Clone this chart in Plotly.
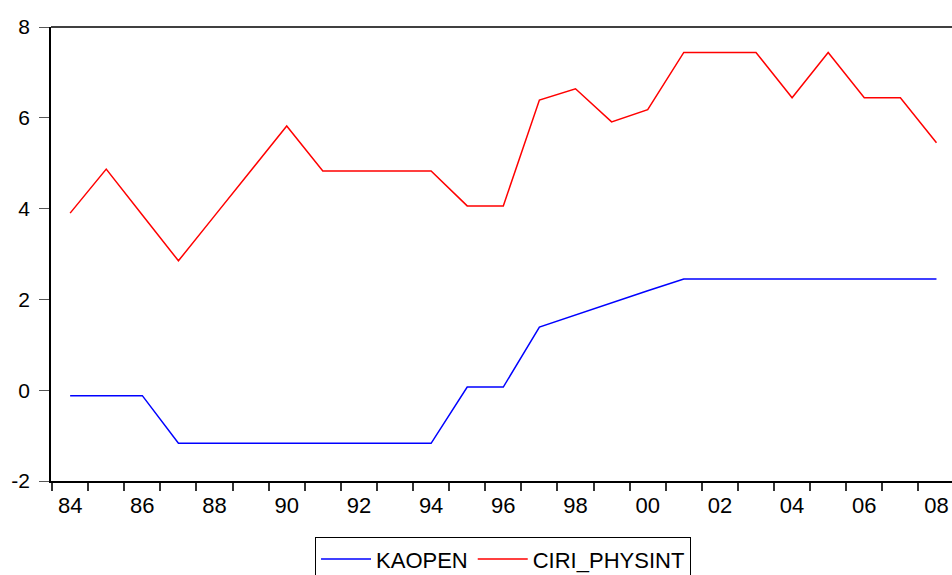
import plotly.graph_objects as go

years = list(range(1984, 2009))
kaopen = [-0.12, -0.12, -0.12, -1.17, -1.17, -1.17, -1.17, -1.17, -1.17, -1.17, -1.17,
          0.07, 0.07, 1.39, 1.66, 1.92, 2.19, 2.45, 2.45, 2.45, 2.45, 2.45, 2.45, 2.45, 2.45]
ciri_physint = [3.90, 4.87, 3.86, 2.85, 3.84, 4.83, 5.82, 4.83, 4.83, 4.83, 4.83,
                4.06, 4.06, 6.39, 6.64, 5.91, 6.18, 7.44, 7.44, 7.44, 6.44, 7.44, 6.44, 6.44, 5.45]
x_tick_vals = list(range(1984, 2009, 2))
x_tick_text = ["84", "86", "88", "90", "92", "94", "96", "98", "00", "02", "04", "06", "08"]
y_tick_vals = [-2, 0, 2, 4, 6, 8]
y_tick_text = ["-2", "0", "2", "4", "6", "8"]

FONT = "Liberation Sans, Arial, sans-serif"

fig = go.Figure()
fig.add_trace(go.Scatter(x=years, y=kaopen, mode="lines", name="KAOPEN",
                         line=dict(color="#0000FF", width=1.5)))
fig.add_trace(go.Scatter(x=years, y=ciri_physint, mode="lines", name="CIRI_PHYSINT",
                         line=dict(color="#FF0000", width=1.5)))

fig.update_layout(
    width=952, height=575,
    margin=dict(l=51, r=0, t=27, b=94, autoexpand=False),
    paper_bgcolor="white", plot_bgcolor="white",
    font=dict(family=FONT, color="black", size=20),
    showlegend=True,
    legend=dict(orientation="h", x=0.5017, xanchor="center", y=-0.124, yanchor="top",
                bordercolor="black", borderwidth=1, bgcolor="white",
                font=dict(family=FONT, size=22, color="black"),
                itemwidth=50, tracegroupgap=0),
    xaxis=dict(range=[1983.47, 2008.43], tickmode="array", tickvals=x_tick_vals,
               ticktext=x_tick_text, ticks="", showgrid=False, zeroline=False,
               showline=True, linecolor="black", linewidth=1.5, mirror=False,
               ticklabelstandoff=4, tickfont=dict(size=22),
               minor=dict(ticks="outside", tick0=1983.5, dtick=1, ticklen=8,
                          tickcolor="#333", tickwidth=1.5, showgrid=False)),
    yaxis=dict(range=[-2, 8], tickmode="array", tickvals=y_tick_vals, ticktext=y_tick_text,
               ticks="outside", ticklen=10, tickcolor="#555", tickwidth=1, showgrid=False,
               zeroline=False, showline=True, linecolor="black", linewidth=1.5,
               tickfont=dict(size=21), ticklabelstandoff=5),
)
# top border of frame
fig.add_shape(type="line", xref="paper", yref="paper", x0=0, x1=1, y0=1, y1=1,
              line=dict(color="black", width=1.5))

fig.write_html("out.html", config={"displayModeBar": False},
               post_script="document.body.style.margin='0';document.body.style.overflow='hidden';")
